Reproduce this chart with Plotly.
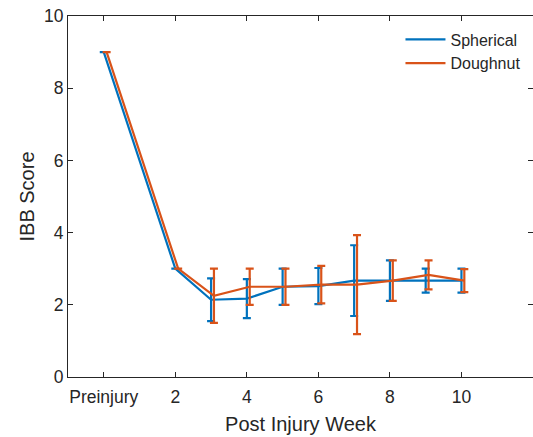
import plotly.graph_objects as go

# Weeks (0 = preinjury) and IBB scores (mean and error) per cage type
weeks = [0, 2, 3, 4, 5, 6, 7, 8, 9, 10]
spherical_mean = [9.0, 3.0, 2.14, 2.17, 2.5, 2.52, 2.67, 2.67, 2.67, 2.67]
spherical_err = [0.0, 0.0, 0.59, 0.54, 0.5, 0.5, 0.98, 0.56, 0.33, 0.33]
doughnut_mean = [9.0, 3.0, 2.25, 2.5, 2.5, 2.56, 2.56, 2.67, 2.83, 2.67]
doughnut_err = [0.0, 0.0, 0.75, 0.5, 0.5, 0.52, 1.37, 0.56, 0.40, 0.32]
doughnut_shift = 0.08

tick_vals = [0, 2, 4, 6, 8, 10]
tick_text = ["Preinjury", "2", "4", "6", "8", "10"]

blue = "#0072BD"
orange = "#D95319"
ink = "#262626"
family = "Liberation Sans, Arial"

fig = go.Figure()
fig.add_trace(go.Scatter(
    x=weeks, y=spherical_mean, name="Spherical", mode="lines",
    line=dict(color=blue, width=2.2),
    error_y=dict(type="data", array=spherical_err, color=blue, thickness=2.2, width=4),
))
fig.add_trace(go.Scatter(
    x=[w + doughnut_shift for w in weeks], y=doughnut_mean, name="Doughnut", mode="lines",
    line=dict(color=orange, width=2.2),
    error_y=dict(type="data", array=doughnut_err, color=orange, thickness=2.2, width=4),
))

axis_common = dict(
    showline=True, linecolor=ink, linewidth=1, mirror="ticks",
    ticks="inside", ticklen=5, tickcolor=ink, showgrid=False, zeroline=False,
    tickfont=dict(family=family, size=17.5, color=ink),
)

fig.update_layout(
    width=533, height=437,
    margin=dict(l=68, r=0, t=16, b=60),
    paper_bgcolor="white", plot_bgcolor="white",
    font=dict(family=family, color=ink),
    xaxis=dict(range=[-1, 12], tickvals=tick_vals, ticktext=tick_text,
               ticklabelstandoff=4,
               title=dict(text="Post Injury Week", font=dict(size=20, color=ink), standoff=10),
               **axis_common),
    yaxis=dict(range=[0, 10], tickvals=[0, 2, 4, 6, 8, 10],
               title=dict(text="IBB Score", font=dict(size=20, color=ink), standoff=4),
               **axis_common),
    legend=dict(x=0.715, y=0.982, xanchor="left", yanchor="top",
                bgcolor="rgba(255,255,255,0)", borderwidth=0,
                font=dict(family=family, size=16, color=ink),
                tracegroupgap=0, itemwidth=40),
    showlegend=True,
)

fig.write_html("out.html")
